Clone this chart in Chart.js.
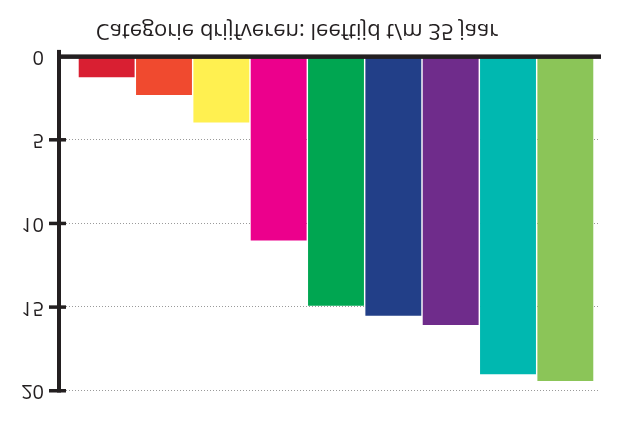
<!DOCTYPE html>
<html>
<head>
<meta charset="utf-8">
<script src="https://cdn.jsdelivr.net/npm/chart.js@4"></script>
<style>
  body { margin: 0; background: #fff; }
  /* the reference picture is mirrored top-to-bottom */
  #chart { display: block; transform: scaleY(-1); }
</style>
</head>
<body>
<canvas id="chart" width="631" height="424"></canvas>
<script>
const categories = ["1", "2", "3", "4", "5", "6", "7", "8", "9"];
const values = [1.25, 2.3, 3.95, 11.0, 14.9, 15.5, 16.05, 19.0, 19.4];
const barColors = [
  "#d91f32", "#f04a2f", "#fff050", "#ec008c", "#00a651",
  "#223f88", "#6f2c8b", "#00b8b0", "#8bc558",
];
const yTicks = [0, 5, 10, 15, 20];
const titleText = "Categorie drijfveren: leeftijd t/m 35 jaar";

const ink = "#231f20";

const axesPlugin = {
  id: "axesPlugin",
  beforeDatasetsDraw(chart) {
    const ctx = chart.ctx;
    const y = chart.scales.y;
    ctx.save();
    ctx.strokeStyle = "#9a9a9a";
    ctx.lineWidth = 1;
    ctx.setLineDash([1, 2]);
    yTicks.forEach((t) => {
      if (t === 0) return;
      const py = Math.round(y.getPixelForValue(t)) + 0.5;
      ctx.beginPath();
      ctx.moveTo(66, py);
      ctx.lineTo(600, py);
      ctx.stroke();
    });
    ctx.restore();
  },
  afterDatasetsDraw(chart) {
    const ctx = chart.ctx;
    const y = chart.scales.y;
    const zero = y.getPixelForValue(0);
    const top = y.getPixelForValue(20);
    ctx.save();
    ctx.fillStyle = ink;
    // x axis line
    ctx.fillRect(57, zero - 2.5, 544, 4.5);
    // y axis line
    ctx.fillRect(57, top - 1.5, 4, zero - top + 8);
    // tick marks
    yTicks.forEach((t) => {
      if (t === 0) return;
      const py = y.getPixelForValue(t);
      ctx.fillRect(49, py - 1.5, 17, 3.5);
    });
    ctx.restore();
  },
};

new Chart(document.getElementById("chart"), {
  type: "bar",
  data: {
    labels: categories,
    datasets: [
      {
        data: values,
        backgroundColor: barColors,
        borderWidth: 0,
        barPercentage: 0.975,
        categoryPercentage: 1,
      },
    ],
  },
  options: {
    responsive: false,
    animation: false,
    devicePixelRatio: 1,
    layout: { padding: { top: 33, right: 37, bottom: 12, left: 0 } },
    plugins: {
      legend: { display: false },
      tooltip: { enabled: false },
      title: {
        display: true,
        text: titleText,
        position: "bottom",
        color: ink,
        font: { family: "'Open Sans'", size: 22, weight: "normal", lineHeight: 1.2 },
        padding: { top: 13, bottom: 5 },
      },
    },
    scales: {
      x: { display: false },
      y: {
        min: 0,
        max: 20,
        afterFit(scale) {
          scale.width = 78;
          scale.paddingTop = 0;
          scale.paddingBottom = 0;
        },
        afterBuildTicks(scale) { scale.ticks = yTicks.map((v) => ({ value: v })); },
        grid: { display: false, drawTicks: false },
        border: { display: false },
        ticks: {
          padding: 34,
          color: ink,
          font: { family: "'Open Sans'", size: 20 },
        },
      },
    },
  },
  plugins: [axesPlugin],
});
</script>
</body>
</html>
